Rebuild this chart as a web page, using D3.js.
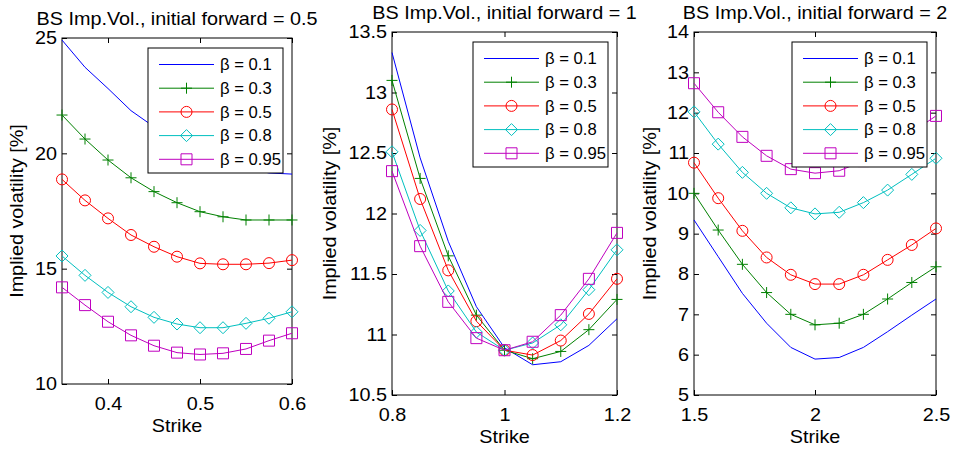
<!DOCTYPE html>
<html>
<head>
<meta charset="utf-8">
<script src="https://cdn.jsdelivr.net/npm/d3@7/dist/d3.min.js"></script>
<style>
  body { margin: 0; background: #fff; }
  svg { font-family: "Liberation Sans", Arial, Helvetica, sans-serif; }
</style>
</head>
<body>
<div id="chart"></div>
<script>
// strikes for each initial forward
var strikes05 = [0.35, 0.375, 0.4, 0.425, 0.45, 0.475, 0.5, 0.525, 0.55, 0.575, 0.6];
var strikes1 = [0.8, 0.85, 0.9, 0.95, 1.0, 1.05, 1.1, 1.15, 1.2];
var strikes2 = [1.5, 1.6, 1.7, 1.8, 1.9, 2.0, 2.1, 2.2, 2.3, 2.4, 2.5];

var betaLabels = ["\u03b2 = 0.1", "\u03b2 = 0.3", "\u03b2 = 0.5", "\u03b2 = 0.8", "\u03b2 = 0.95"];
var forwards = ["0.5", "1", "2"];

// implied vol [%], one row per beta (0.1, 0.3, 0.5, 0.8, 0.95)
var vol05 = [
  [24.91, 23.73, 22.81, 21.85, 21.15, 20.55, 20.05, 19.65, 19.35, 19.15, 19.10],
  [21.66, 20.62, 19.71, 18.94, 18.34, 17.86, 17.47, 17.25, 17.11, 17.11, 17.11],
  [18.87, 17.96, 17.18, 16.46, 15.95, 15.52, 15.23, 15.19, 15.19, 15.24, 15.37],
  [15.55, 14.71, 13.97, 13.35, 12.89, 12.60, 12.44, 12.44, 12.63, 12.85, 13.13],
  [14.19, 13.42, 12.70, 12.11, 11.66, 11.36, 11.28, 11.33, 11.52, 11.88, 12.20]
];
var vol1 = [
  [13.33, 12.46, 11.77, 11.23, 10.89, 10.75, 10.775, 10.91, 11.13],
  [13.10, 12.29, 11.65, 11.16, 10.87, 10.80, 10.86, 11.04, 11.29],
  [12.86, 12.12, 11.53, 11.11, 10.87, 10.83, 10.95, 11.17, 11.46],
  [12.51, 11.86, 11.36, 11.02, 10.87, 10.93, 11.08, 11.37, 11.70],
  [12.35, 11.73, 11.27, 10.97, 10.87, 10.94, 11.16, 11.46, 11.84]
];
var vol2 = [
  [9.34, 8.43, 7.52, 6.78, 6.18, 5.89, 5.93, 6.18, 6.57, 6.98, 7.38],
  [10.00, 9.09, 8.24, 7.54, 7.00, 6.74, 6.78, 7.00, 7.38, 7.79, 8.18],
  [10.76, 9.88, 9.07, 8.41, 7.98, 7.75, 7.75, 7.98, 8.35, 8.72, 9.13],
  [12.02, 11.22, 10.52, 10.00, 9.64, 9.49, 9.53, 9.77, 10.08, 10.47, 10.87],
  [12.73, 12.01, 11.40, 10.93, 10.60, 10.50, 10.56, 10.80, 11.12, 11.51, 11.92]
];

// axis ticks
var xTicks05 = [0.4, 0.5, 0.6], yTicks05 = [10, 15, 20, 25];
var xTicks1 = [0.8, 1, 1.2], yTicks1 = [10.5, 11, 11.5, 12, 12.5, 13, 13.5];
var xTicks2 = [1.5, 2, 2.5], yTicks2 = [5, 6, 7, 8, 9, 10, 11, 12, 13, 14];

var colors = ["#0000ff", "#008000", "#ff0000", "#00bfbf", "#bf00bf"];
var markers = ["none", "plus", "circle", "diamond", "square"];

var W = 955, H = 451;
var stretch = "scale(1.1,1)"; // the reference text is a bit wide
var panels = [
  { fwd: forwards[0], strikes: strikes05, vols: vol05, xt: xTicks05, yt: yTicks05,
    xd: [0.35, 0.6], yd: [10, 25], left: 62, right: 292, top: 38, bottom: 384, ylab: 23 },
  { fwd: forwards[1], strikes: strikes1, vols: vol1, xt: xTicks1, yt: yTicks1,
    xd: [0.8, 1.2], yd: [10.5, 13.5], left: 392, right: 617, top: 32, bottom: 395, ylab: 336 },
  { fwd: forwards[2], strikes: strikes2, vols: vol2, xt: xTicks2, yt: yTicks2,
    xd: [1.5, 2.5], yd: [5, 14], left: 694, right: 936, top: 32, bottom: 395, ylab: 656 }
];

var svg = d3.select("#chart").append("svg")
  .attr("width", W).attr("height", H);

function markerPath(type) {
  var s = 5.5;
  if (type == "plus") return "M" + (-s) + ",0H" + s + "M0," + (-s) + "V" + s;
  if (type == "circle") return "M" + s + ",0A" + s + "," + s + " 0 1,1 " + (-s) + ",0A" + s + "," + s + " 0 1,1 " + s + ",0Z";
  if (type == "diamond") return "M0," + (-s - 0.5) + "L" + (s + 0.5) + ",0L0," + (s + 0.5) + "L" + (-s - 0.5) + ",0Z";
  if (type == "square") return "M" + (-s) + "," + (-s) + "H" + s + "V" + s + "H" + (-s) + "Z";
  return "";
}

panels.forEach(function (p) {
  var x = d3.scaleLinear().domain(p.xd).range([p.left, p.right]);
  var y = d3.scaleLinear().domain(p.yd).range([p.bottom, p.top]);
  var g = svg.append("g");
  var fmt = function (d) { return String(d); };

  // axes with inward ticks, MATLAB style box
  g.append("g").attr("transform", "translate(0," + p.bottom + ")")
    .call(d3.axisBottom(x).tickValues(p.xt).tickFormat(fmt).tickSize(-5).tickPadding(13));
  g.append("g").attr("transform", "translate(0," + p.top + ")")
    .call(d3.axisTop(x).tickValues(p.xt).tickFormat("").tickSize(-5));
  g.append("g").attr("transform", "translate(" + p.left + ",0)")
    .call(d3.axisLeft(y).tickValues(p.yt).tickFormat(fmt).tickSize(-5).tickPadding(4.5));
  g.append("g").attr("transform", "translate(" + p.right + ",0)")
    .call(d3.axisRight(y).tickValues(p.yt).tickFormat("").tickSize(-5));
  g.selectAll(".domain").remove();
  g.selectAll(".tick line").attr("stroke", "#000");
  g.selectAll(".tick text").attr("fill", "#000").attr("transform", stretch)
    .style("font-size", "18px")
    .style("font-family", "'Liberation Sans', Arial, sans-serif");

  g.append("rect")
    .attr("x", p.left).attr("y", p.top)
    .attr("width", p.right - p.left).attr("height", p.bottom - p.top)
    .attr("fill", "none").attr("stroke", "#000").attr("stroke-width", 1);

  // curves
  var line = d3.line()
    .x(function (d, i) { return x(p.strikes[i]); })
    .y(function (d) { return y(d); });

  p.vols.forEach(function (vals, k) {
    g.append("path").datum(vals)
      .attr("d", line)
      .attr("fill", "none").attr("stroke", colors[k]).attr("stroke-width", 1);
    if (markers[k] != "none") {
      g.selectAll(".m" + k).data(vals).enter().append("path")
        .attr("transform", function (d, i) { return "translate(" + x(p.strikes[i]) + "," + y(d) + ")"; })
        .attr("d", markerPath(markers[k]))
        .attr("fill", "none").attr("stroke", colors[k]).attr("stroke-width", 1);
    }
  });

  // title and axis labels
  var cx = (p.left + p.right) / 2;
  g.append("text")
    .attr("transform", "translate(" + cx + "," + (p.top - 13) + ")" + stretch)
    .attr("text-anchor", "middle").style("font-size", "18px")
    .text("BS Imp.Vol., initial forward = " + p.fwd);
  g.append("text")
    .attr("transform", "translate(" + cx + "," + (p.bottom + 48) + ")" + stretch)
    .attr("text-anchor", "middle").style("font-size", "18px")
    .text("Strike");
  g.append("text")
    .attr("transform", "translate(" + p.ylab + "," + ((p.top + p.bottom) / 2) + ")rotate(-90)" + stretch)
    .attr("text-anchor", "middle").style("font-size", "18px")
    .text("Implied volatility [%]");

  // legend
  var lw = 135, lh = 125;
  var lx = p.right - 9 - lw, ly = p.top + 10;
  var leg = g.append("g").attr("transform", "translate(" + lx + "," + ly + ")");
  leg.append("rect").attr("width", lw).attr("height", lh)
    .attr("fill", "#fff").attr("stroke", "#000").attr("stroke-width", 1);
  betaLabels.forEach(function (lab, k) {
    var ry = 16.5 + k * 23.7;
    leg.append("line").attr("x1", 11).attr("x2", 66).attr("y1", ry).attr("y2", ry)
      .attr("stroke", colors[k]).attr("stroke-width", 1);
    if (markers[k] != "none") {
      leg.append("path").attr("transform", "translate(38.5," + ry + ")")
        .attr("d", markerPath(markers[k]))
        .attr("fill", "none").attr("stroke", colors[k]).attr("stroke-width", 1);
    }
    leg.append("text").attr("transform", "translate(72," + ry + ")scale(1.04,1)")
      .attr("dy", "0.35em")
      .style("font-size", "16px").text(lab);
  });
});
</script>
</body>
</html>
